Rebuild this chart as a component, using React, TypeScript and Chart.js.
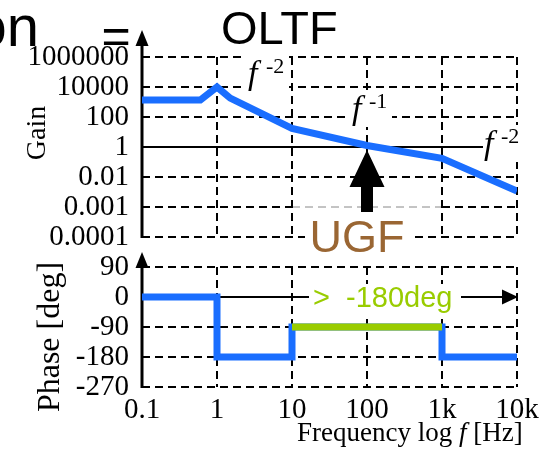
import React, { useEffect, useRef } from 'react';
import { Chart, registerables } from 'chart.js';

Chart.register(...registerables);

// ---- data ----
const xTickValues = [0.1, 1, 10, 100, 1000, 10000];
const xTickLabels = ['0.1', '1', '10', '100', '1k', '10k'];
const gainTickLevels = [3, 2, 1, 0, -1, -2, -3];
const gainTickLabels = ['1000000', '10000', '100', '1', '0.01', '0.001', '0.0001'];
const phaseTickValues = [90, 0, -90, -180, -270];

// gain in axis "levels" (one level per labelled gain tick)
const gainFreq = [0.1, 0.6, 1, 1.5, 10, 100, 1000, 10000];
const gainLevel = [1.57, 1.57, 2.0, 1.63, 0.62, 0.05, -0.38, -1.47];

const phaseFreq = [0.1, 1, 1, 10, 10, 1000, 1000, 10000];
const phaseDeg = [0, 0, -180, -180, -90, -90, -180, -180];

const marginFreq = [10, 1000];
const marginDeg = [-90, -90];

// axis ranges: gain panel on top, phase panel below, one empty unit between
const G_MIN = -8, G_MAX = 3;
const P_MIN = -270, P_MAX = 720;
const phaseToLevel = (d: number) => G_MIN + ((d - P_MIN) / (P_MAX - P_MIN)) * (G_MAX - G_MIN);

const SERIF = "'Liberation Serif', 'Times New Roman', Times, serif";
const SANS = "'Liberation Sans', Arial, Helvetica, sans-serif";
const BLUE = '#1a6eff';
const GREEN = '#99cc00';
const BROWN = '#9a6633';

function seg(ctx: CanvasRenderingContext2D, ax: number, ay: number, bx: number, by: number, dashed: boolean, w = 2, color = '#000') {
  ctx.beginPath();
  ctx.setLineDash(dashed ? [8, 5] : []);
  ctx.lineWidth = w;
  ctx.strokeStyle = color;
  ctx.moveTo(ax, ay);
  ctx.lineTo(bx, by);
  ctx.stroke();
  ctx.setLineDash([]);
}

function tri(ctx: CanvasRenderingContext2D, pts: number[][]) {
  ctx.beginPath();
  ctx.moveTo(pts[0][0], pts[0][1]);
  for (let i = 1; i < pts.length; i++) ctx.lineTo(pts[i][0], pts[i][1]);
  ctx.closePath();
  ctx.fill();
}

const decor = {
  id: 'decor',
  beforeDatasetsDraw(chart: any) {
    const ctx: CanvasRenderingContext2D = chart.ctx;
    const { x, yG, yP } = chart.scales;
    const x0 = x.getPixelForValue(xTickValues[0]);
    const x1 = x.getPixelForValue(xTickValues[xTickValues.length - 1]);
    const gTop = yG.getPixelForValue(gainTickLevels[0]);
    const gBot = yG.getPixelForValue(gainTickLevels[gainTickLevels.length - 1]);
    const pTop = yP.getPixelForValue(phaseTickValues[0]);
    const pBot = yP.getPixelForValue(phaseTickValues[phaseTickValues.length - 1]);
    ctx.save();
    gainTickLevels.forEach((l, i) => {
      const y = yG.getPixelForValue(l);
      if (l === 0) {
        seg(ctx, x0, y, x1, y, false, 2);
      } else if (gainTickLabels[i] === '0.001') {
        const a = x.getPixelForValue(10);
        const b = x.getPixelForValue(1000);
        seg(ctx, x0, y, a, y, true);
        seg(ctx, a, y, b, y, true, 1, '#888');
        seg(ctx, b, y, x1, y, true);
      } else {
        seg(ctx, x0, y, x1, y, true);
      }
    });
    phaseTickValues.forEach((d) => {
      const y = yP.getPixelForValue(d);
      if (d === 0) {
        seg(ctx, x0, y, x1 - 14, y, false, 2);
        ctx.fillStyle = '#000';
        tri(ctx, [[x1 + 1, y], [x1 - 15, y - 7.5], [x1 - 15, y + 7.5]]);
      } else {
        seg(ctx, x0, y, x1, y, true);
      }
    });
    xTickValues.slice(1).forEach((f) => {
      const xx = x.getPixelForValue(f);
      seg(ctx, xx, gTop, xx, gBot, true);
      seg(ctx, xx, pTop, xx, pBot, true);
    });
    ctx.fillStyle = '#000';
    seg(ctx, x0, gBot + 1, x0, gTop - 12, false, 3);
    tri(ctx, [[x0, gTop - 27], [x0 - 6.5, gTop - 11], [x0 + 6.5, gTop - 11]]);
    seg(ctx, x0, pBot + 1, x0, pTop, false, 3);
    tri(ctx, [[x0, pTop - 15], [x0 - 6.5, pTop + 1], [x0 + 6.5, pTop + 1]]);
    ctx.restore();
  },
  afterDatasetsDraw(chart: any) {
    const ctx: CanvasRenderingContext2D = chart.ctx;
    const { x, yG } = chart.scales;
    ctx.save();
    ctx.textAlign = 'left';
    ctx.textBaseline = 'alphabetic';

    const fLabels = [
      { fx: 248, fy: 84, sx: 266, sup: '-2', box: [241, 56, 48, 37] },
      { fx: 352, fy: 119, sx: 369, sup: '-1', box: [346, 90, 46, 37] },
      { fx: 484, fy: 154, sx: 501, sup: '-2', box: [483, 125, 47, 37] },
    ];
    fLabels.forEach((L) => {
      ctx.fillStyle = '#fff';
      ctx.fillRect(L.box[0], L.box[1], L.box[2], L.box[3]);
      ctx.fillStyle = '#000';
      ctx.font = `italic 34px ${SERIF}`;
      ctx.fillText('f', L.fx, L.fy);
      ctx.font = `22px ${SERIF}`;
      ctx.fillText(L.sup, L.sx, L.fy - 11);
    });

    const ux = x.getPixelForValue(100);
    const tipY = yG.getPixelForValue(0) + 3;
    ctx.fillStyle = '#000';
    tri(ctx, [
      [ux, tipY], [ux + 17.5, tipY + 37], [ux + 6, tipY + 37], [ux + 6, tipY + 62],
      [ux - 6, tipY + 62], [ux - 6, tipY + 37], [ux - 17.5, tipY + 37],
    ]);
    ctx.fillStyle = '#fff';
    ctx.fillRect(305, 213, 105, 49);
    ctx.fillStyle = BROWN;
    ctx.font = `45px ${SANS}`;
    ctx.textAlign = 'center';
    ctx.fillText('UGF', 357, 252);

    ctx.fillStyle = '#fff';
    ctx.fillRect(309, 284, 152, 30);
    ctx.fillStyle = GREEN;
    ctx.font = `29px ${SANS}`;
    ctx.textAlign = 'left';
    ctx.fillText('>  -180deg', 313, 307);

    ctx.fillStyle = '#000';
    ctx.font = `58px ${SANS}`;
    ctx.textAlign = 'right';
    ctx.fillText('on', 39, 46);
    ctx.font = `50px ${SANS}`;
    ctx.textAlign = 'center';
    ctx.fillText('=', 116, 53);
    ctx.font = `47px ${SANS}`;
    ctx.textAlign = 'left';
    ctx.fillText('OLTF', 221, 44);

    ctx.font = `28px ${SERIF}`;
    ctx.textAlign = 'center';
    ctx.save();
    ctx.translate(45, 133);
    ctx.rotate(-Math.PI / 2);
    ctx.fillText('Gain', 0, 0);
    ctx.restore();
    ctx.font = `32px ${SERIF}`;
    ctx.save();
    ctx.translate(59, 337);
    ctx.rotate(-Math.PI / 2);
    ctx.fillText('Phase [deg]', 0, 0);
    ctx.restore();

    ctx.textAlign = 'left';
    let tx = 297;
    const ty = 441;
    ctx.font = `27px ${SERIF}`;
    ctx.fillText('Frequency log ', tx, ty);
    tx += ctx.measureText('Frequency log ').width;
    ctx.font = `italic 27px ${SERIF}`;
    ctx.fillText('f', tx, ty);
    tx += ctx.measureText('f').width;
    ctx.font = `27px ${SERIF}`;
    ctx.fillText(' [Hz]', tx, ty);

    ctx.restore();
  },
};

export default function App() {
  const ref = useRef<HTMLCanvasElement>(null);
  useEffect(() => {
    const tickFont = { family: SERIF, size: 29 };
    const yTicks = [
      ...gainTickLevels.map((v, i) => ({ value: v, label: gainTickLabels[i] })),
      ...phaseTickValues.map((d) => ({ value: phaseToLevel(d), label: String(d) })),
    ];
    const chart = new Chart(ref.current as HTMLCanvasElement, {
      type: 'line',
      data: {
        datasets: [
          {
            data: marginFreq.map((f, i) => ({ x: f, y: marginDeg[i] })),
            yAxisID: 'yP',
            borderColor: GREEN,
            borderWidth: 7,
            pointRadius: 0,
            order: 0,
          },
          {
            data: phaseFreq.map((f, i) => ({ x: f, y: phaseDeg[i] })),
            yAxisID: 'yP',
            borderColor: BLUE,
            borderWidth: 7,
            pointRadius: 0,
            borderJoinStyle: 'miter',
            order: 1,
          },
          {
            data: gainFreq.map((f, i) => ({ x: f, y: gainLevel[i] })),
            yAxisID: 'yG',
            borderColor: BLUE,
            borderWidth: 7,
            pointRadius: 0,
            borderJoinStyle: 'miter',
            order: 2,
          },
        ],
      } as any,
      options: {
        responsive: false,
        animation: false,
        devicePixelRatio: 1,
        layout: { padding: { top: 57, right: 30, left: 0, bottom: 0 } },
        plugins: { legend: { display: false }, tooltip: { enabled: false } },
        scales: {
          x: {
            type: 'logarithmic',
            min: 0.1,
            max: 10000,
            grid: { display: false, drawTicks: false },
            border: { display: false },
            afterBuildTicks: (s: any) => { s.ticks = xTickValues.map((v) => ({ value: v })); },
            afterFit: (s: any) => { s.height = 65; },
            ticks: {
              autoSkip: false, maxRotation: 0, minRotation: 0, padding: 6, color: '#000', font: tickFont,
              callback: (_v: any, i: number) => xTickLabels[i],
            },
          },
          yG: {
            type: 'linear',
            position: 'left',
            min: G_MIN,
            max: G_MAX,
            grid: { display: false, drawTicks: false },
            border: { display: false },
            afterBuildTicks: (s: any) => { s.ticks = yTicks.map((t) => ({ value: t.value })); },
            afterFit: (s: any) => { s.width = 142; },
            ticks: {
              autoSkip: false, padding: 13, color: '#000', font: tickFont,
              callback: (_v: any, i: number) => yTicks[i].label,
            },
          },
          yP: {
            type: 'linear',
            display: false,
            min: P_MIN,
            max: P_MAX,
          },
        },
      } as any,
      plugins: [decor],
    });
    return () => chart.destroy();
  }, []);
  return (
    <div style={{ position: 'absolute', left: 0, top: 0, width: 547, height: 452, background: '#fff' }}>
      <canvas ref={ref} width={547} height={452} style={{ display: 'block', width: 547, height: 452 }} />
    </div>
  );
}
